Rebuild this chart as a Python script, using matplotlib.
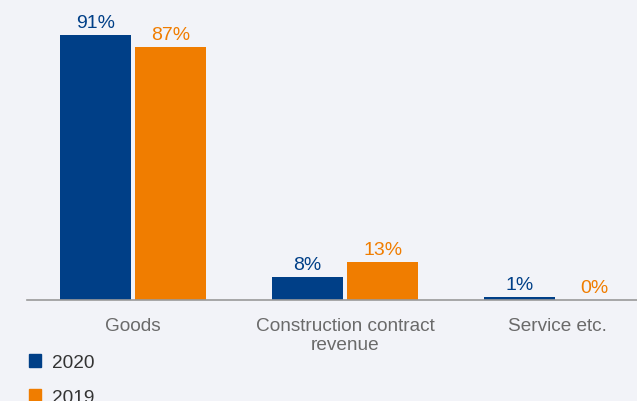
import matplotlib.pyplot as plt
import numpy as np
from matplotlib.patches import Patch

categories = ["Goods", "Construction contract\nrevenue", "Service etc."]
years = ["2020", "2019"]
share_2020 = [91, 8, 1]
share_2019 = [87, 13, 0]

navy = "#003f87"
orange = "#f07d00"
bg = "#f2f3f8"

plt.rcParams["font.family"] = ["Liberation Sans", "DejaVu Sans"]

W, H = 637, 402
fig = plt.figure(figsize=(W / 100, H / 100), dpi=100, facecolor=bg)
# axes box in pixels: left 27, right 637, baseline at y=301 from top
ax = fig.add_axes([27 / W, (H - 301) / H, (W - 27) / W, 301 / H])
ax.set_facecolor(bg)

x = np.arange(len(categories))
width = 0.335
offset = 0.177
b1 = ax.bar(x - offset, share_2020, width, color=navy)
b2 = ax.bar(x + offset, share_2019, width, color=orange)

for bars, vals, col in [(b1, share_2020, navy), (b2, share_2019, orange)]:
    for rect, v in zip(bars, vals):
        ax.text(rect.get_x() + rect.get_width() / 2, v + 1.4, f"{v}%",
                ha="center", va="bottom", fontsize=14, color=col)

ax.set_xlim(-0.5, 2.377)
ax.set_ylim(0, 103.4)
for side in ["top", "right", "left"]:
    ax.spines[side].set_visible(False)
ax.spines["bottom"].set_color("#9a9a9a")
ax.spines["bottom"].set_linewidth(1.2)
ax.set_yticks([])
ax.set_xticks(x)
ax.set_xticklabels(categories, fontsize=13.7, color="#6a6a6a", linespacing=1.2)
ax.tick_params(axis="x", length=0, pad=12)

handles = [Patch(color=navy), Patch(color=orange)]
fig.legend(handles, years, loc="upper left", bbox_to_anchor=(19 / W, 1 - 345 / H),
           frameon=False, fontsize=13.7, handlelength=0.68, handleheight=0.68,
           handletextpad=0.55, labelspacing=0.95, borderpad=0, labelcolor="#333333")

fig.savefig("out.png", dpi=100, facecolor=bg)
